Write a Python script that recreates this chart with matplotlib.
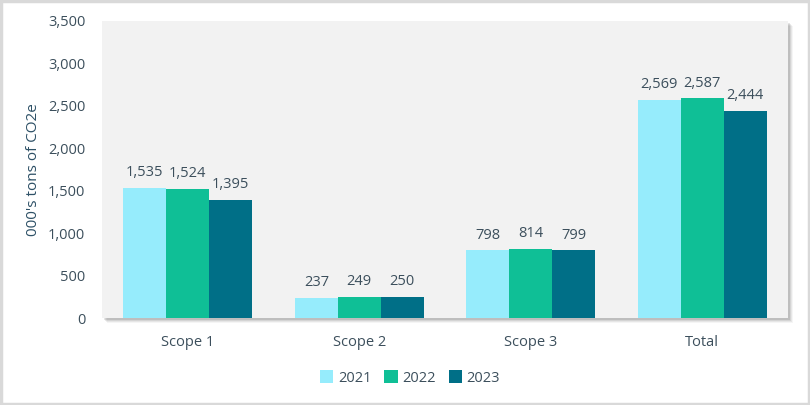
import matplotlib
matplotlib.use("Agg")
import matplotlib.pyplot as plt
from matplotlib.patches import Rectangle
import numpy as np

categories = ["Scope 1", "Scope 2", "Scope 3", "Total"]
years = ["2021", "2022", "2023"]
v2021 = [1535, 237, 798, 2569]
v2022 = [1524, 249, 814, 2587]
v2023 = [1395, 250, 799, 2444]
series = [v2021, v2022, v2023]
colors = ["#96ecfc", "#0fbf96", "#006f87"]
yticks = [0, 500, 1000, 1500, 2000, 2500, 3000, 3500]

txt = "#3c4f5c"
plt.rcParams['font.family'] = ['Open Sans', 'DejaVu Sans']

fig = plt.figure(figsize=(8.1, 4.05), dpi=100)
W, H = 810, 405
l, r, t, b = 102, 788, 21, 318
ax = fig.add_axes([l / W, 1 - b / H, (r - l) / W, (b - t) / H])
ax.set_zorder(2)
ax.set_facecolor("#f2f2f2")

# drop shadow behind plot area
for i, a in enumerate([0.10, 0.08, 0.06, 0.04]):
    off = i + 1
    fig.patches.append(Rectangle(((l + off + 1) / W, 1 - (b + off + 1) / H),
                                 (r - l) / W, (b - t) / H, transform=fig.transFigure,
                                 facecolor="black", alpha=a, edgecolor="none", zorder=0))

# outer border
fig.patches.append(Rectangle((0.0015, 0.003), 0.997, 0.994, transform=fig.transFigure,
                             facecolor="none", edgecolor="#d9d9d9", linewidth=2.5, zorder=5))

x = np.arange(len(categories))
w = 0.25
for i, (vals, c) in enumerate(zip(series, colors)):
    bars = ax.bar(x + (i - 1) * w, vals, w, color=c, label=years[i], zorder=3)
    for bar, v in zip(bars, vals):
        ax.text(bar.get_x() + bar.get_width() / 2, v + 90, f"{v:,}",
                ha="center", va="bottom", fontsize=10.5, color=txt)

ax.set_xlim(-0.5, len(categories) - 0.5)
ax.set_ylim(0, 3500)
ax.set_yticks(yticks)
ax.set_yticklabels([f"{v:,}" for v in yticks], fontsize=10.5, color=txt)
ax.set_xticks(x)
ax.set_xticklabels(categories, fontsize=10.5, color=txt)
ax.tick_params(axis="both", length=0)
ax.tick_params(axis="y", pad=12)
ax.tick_params(axis="x", pad=12)
for s in ax.spines.values():
    s.set_visible(False)
ax.set_ylabel("000's tons of CO2e", fontsize=11, color="#2d5066", labelpad=5)

handles, labels = ax.get_legend_handles_labels()
fig.legend(handles, labels, loc="center", bbox_to_anchor=(410 / W, 1 - 378 / H), ncol=3,
           frameon=False, fontsize=10.5, handlelength=0.9, handleheight=0.9,
           handletextpad=0.3, columnspacing=0.9, labelcolor=txt)

fig.savefig("out.png", dpi=100, facecolor="white")
